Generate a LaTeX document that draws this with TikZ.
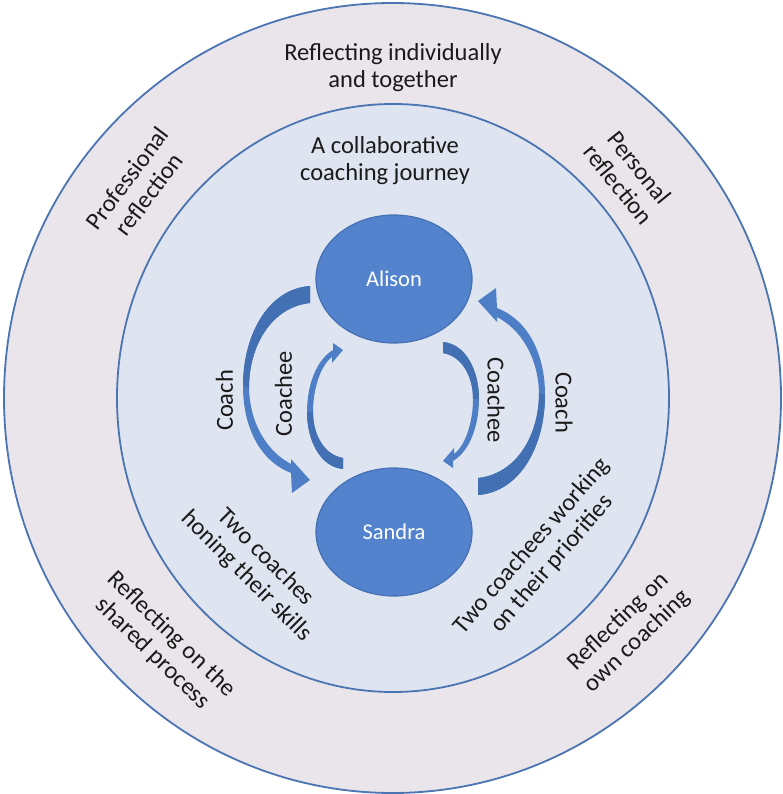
\documentclass[tikz,border=0pt]{standalone}
\usepackage{fontspec}
\setmainfont{Carlito}
\usetikzlibrary{shapes.geometric}

\definecolor{outerfill}{HTML}{E9E5EA}
\definecolor{innerfill}{HTML}{DFE5F0}
\definecolor{ringblue}{HTML}{4A74B2}
\definecolor{disc}{HTML}{5383CC}
\definecolor{discedge}{HTML}{4670B4}
\definecolor{arrowbody}{HTML}{4E7EC6}
\definecolor{arrowback}{HTML}{4270B3}
\definecolor{ink}{HTML}{1A1A1A}

% big curved arrow: full outline and its shaded back half
\def\bigarc{(310,286) .. controls (268,289) and (243,335) .. (243,386)
  .. controls (243,430) and (262,462) .. (291,473) -- (292,493) -- (310,480)
  -- (291,459) -- (291,464) .. controls (268,452) and (250,425) .. (249,388)
  .. controls (249,345) and (272,307) .. (310,303) -- cycle}
\def\bigarcback{(310,286) .. controls (268,289) and (243,335) .. (243,386)
  -- (249,388) .. controls (249,345) and (272,307) .. (310,303) -- cycle}
% small curved arrow
\def\smallarc{(343,469) .. controls (320,467) and (307,440) .. (307,412)
  .. controls (307,386) and (316,360) .. (333,350) -- (333,343) -- (343,350)
  -- (332,363) -- (332,357) .. controls (320,366) and (313,390) .. (313,412)
  .. controls (313,436) and (325,455) .. (343,458) -- cycle}
\def\smallarcback{(343,469) .. controls (320,467) and (307,440) .. (307,412)
  -- (313,412) .. controls (313,436) and (325,455) .. (343,458) -- cycle}

\begin{document}
\begin{tikzpicture}[x=1pt,y=-1pt,
  ring/.style={draw=ringblue, line width=1.8pt},
  label/.style={text=ink, align=center, inner sep=0pt,
    font=\fontsize{24.5}{27}\selectfont},
  person/.style={ellipse, draw=discedge, line width=1.2pt, fill=disc,
    minimum width=156pt, minimum height=128pt, inner sep=0pt,
    text=white, font=\fontsize{22.5}{26}\selectfont}]

\useasboundingbox (0,0) rectangle (783,794);

% rings
\draw[ring, fill=outerfill] (392.5,398) ellipse [x radius=388.5pt, y radius=395pt];
\draw[ring, fill=innerfill] (393,398) ellipse [x radius=276pt, y radius=294pt];

% outer ring texts
\node[label] (together) at (393,68) {Reflecting individually\\and together};
\node[label, rotate=53] (professional) at (138,186) {Professional\\reflection};
\node[label, rotate=-51] (personal) at (629,176) {Personal\\reflection};
\node[label, rotate=-44] (shared) at (162,644) {Reflecting on the\\shared process};
\node[label, rotate=44] (owncoaching) at (628,632) {Reflecting on\\own coaching};

% inner ring texts
\node[label] (journey) at (385,161) {A collaborative\\coaching journey};
\node[label, rotate=-45] (coaches) at (256,567) {Two coaches\\honing their skills};
\node[label, rotate=49] (coachees) at (542,555) {Two coachees working\\on their priorities};

% the two people
\node[person] (alison) at (394,279) {Alison};
\node[person] (sandra) at (394,532) {Sandra};

% curved arrows: left pair, and the right pair turned half round
\fill[arrowbody] \bigarc;
\fill[arrowback] \bigarcback;
\fill[arrowbody] \smallarc;
\fill[arrowback] \smallarcback;
\begin{scope}[rotate around={180:(394,390.5)}]
  \fill[arrowbody] \bigarc;
  \fill[arrowback] \bigarcback;
\end{scope}
\begin{scope}[rotate around={180:(393,405.5)}]
  \fill[arrowbody] \smallarc;
  \fill[arrowback] \smallarcback;
\end{scope}

% arrow labels
\node[label, rotate=90] (coachL) at (224.5,400.5) {Coach};
\node[label, rotate=90] (coacheeL) at (283.5,393.5) {Coachee};
\node[label, rotate=-90] (coacheeR) at (496,400) {Coachee};
\node[label, rotate=-90] (coachR) at (564,402.5) {Coach};

\end{tikzpicture}
\end{document}
